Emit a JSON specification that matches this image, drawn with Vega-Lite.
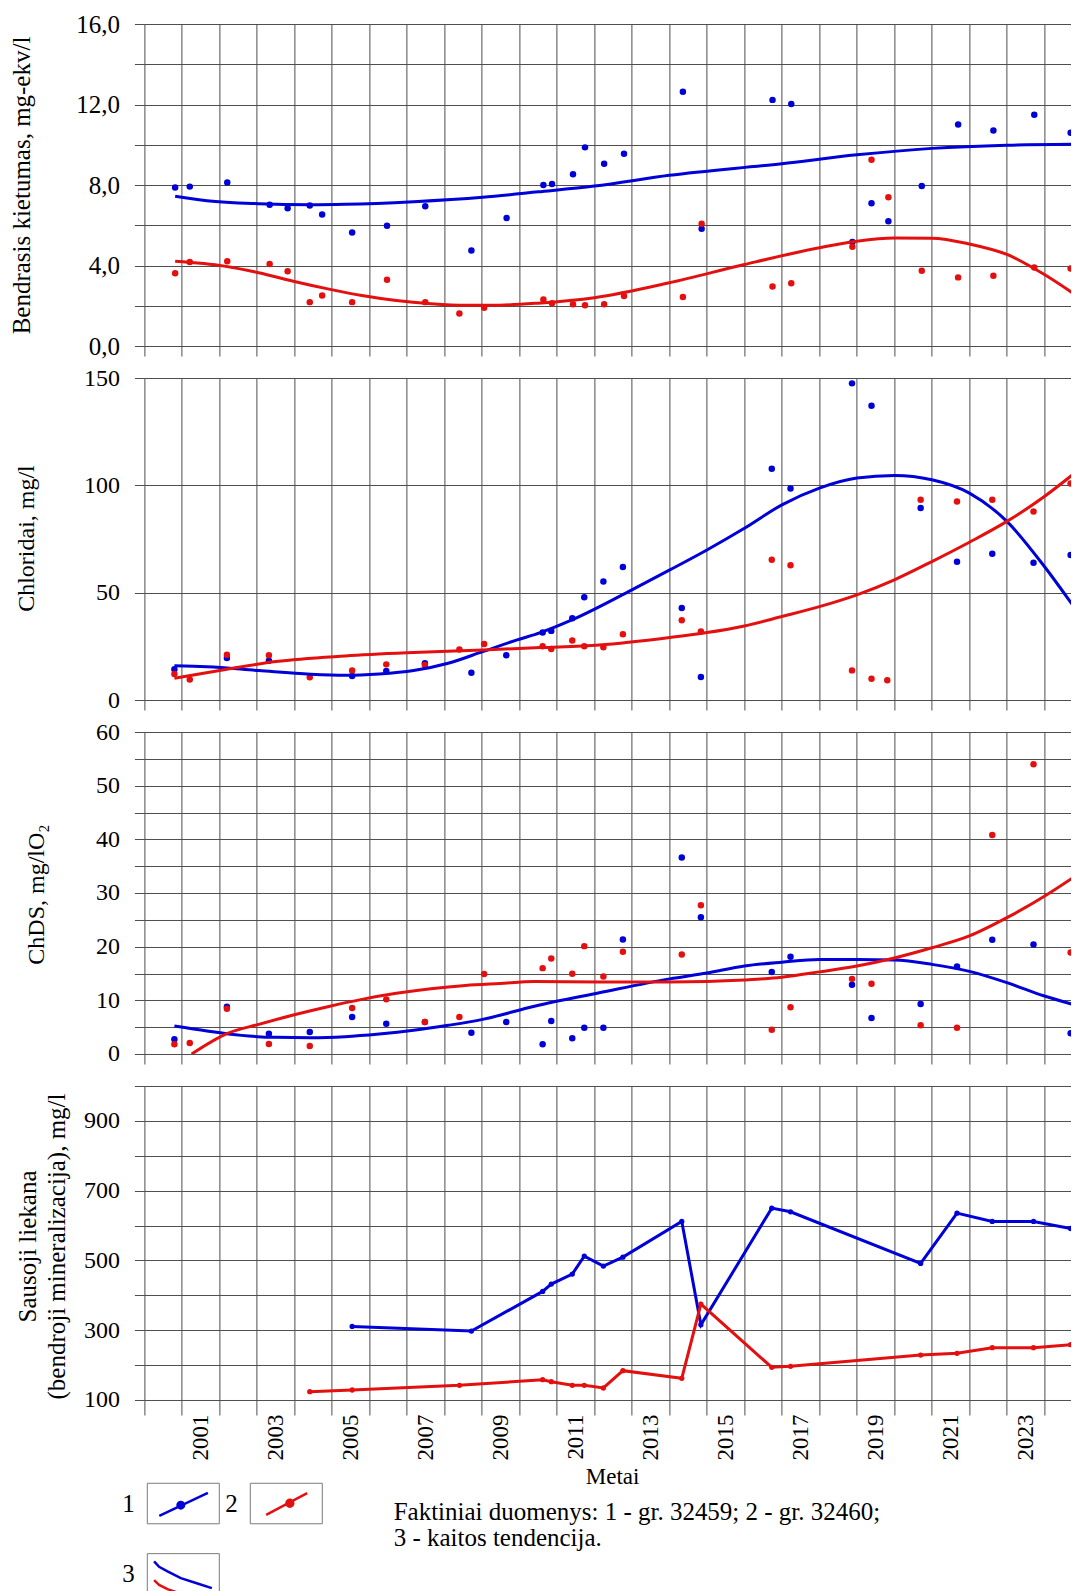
{
  "$schema": "https://vega.github.io/schema/vega-lite/v6.json",
  "padding": {"left": 9.4, "top": 12, "right": 0, "bottom": 0},
  "background": "white",
  "spacing": 32,
  "bounds": "flush",
  "resolve": {"scale": {"color": "independent", "shape": "independent"}},
  "config": {
    "view": {"stroke": null},
    "font": "Liberation Serif",
    "axis": {
      "labelFont": "Liberation Serif", "titleFont": "Liberation Serif",
      "labelColor": "#000", "titleColor": "#000", "titleFontWeight": "normal",
      "gridColor": "#4d4d4d", "gridWidth": 1, "gridOpacity": 1, "tickColor": "#4d4d4d", "tickWidth": 1,
      "domain": false, "labelOverlap": false, "labelFlush": false, "labelBound": false
    },
    "legend": {"labelFont": "Liberation Serif", "titleFont": "Liberation Serif", "padding": 0}
  },
  "datasets": {
    "hard": [
      {"year":2000.82,"value":7.88,"series":"1"},{"year":2001.21,"value":7.92,"series":"1"},{"year":2002.21,"value":8.12,"series":"1"},
      {"year":2003.34,"value":7.02,"series":"1"},{"year":2003.82,"value":6.84,"series":"1"},{"year":2004.41,"value":6.98,"series":"1"},
      {"year":2004.74,"value":6.53,"series":"1"},{"year":2005.54,"value":5.64,"series":"1"},{"year":2006.47,"value":5.97,"series":"1"},
      {"year":2007.49,"value":6.94,"series":"1"},{"year":2008.72,"value":4.74,"series":"1"},{"year":2009.66,"value":6.36,"series":"1"},
      {"year":2010.64,"value":8.0,"series":"1"},{"year":2010.87,"value":8.05,"series":"1"},{"year":2011.43,"value":8.53,"series":"1"},
      {"year":2011.75,"value":9.87,"series":"1"},{"year":2012.26,"value":9.06,"series":"1"},{"year":2012.79,"value":9.55,"series":"1"},
      {"year":2014.36,"value":12.63,"series":"1"},{"year":2014.86,"value":5.83,"series":"1"},{"year":2016.75,"value":12.23,"series":"1"},
      {"year":2017.25,"value":12.02,"series":"1"},{"year":2018.88,"value":5.17,"series":"1"},{"year":2019.39,"value":7.09,"series":"1"},
      {"year":2019.84,"value":6.2,"series":"1"},{"year":2020.73,"value":7.95,"series":"1"},{"year":2021.7,"value":11.01,"series":"1"},
      {"year":2022.64,"value":10.71,"series":"1"},{"year":2023.73,"value":11.49,"series":"1"},{"year":2024.7,"value":10.6,"series":"1"},
      {"year":2000.82,"value":3.62,"series":"2"},{"year":2001.21,"value":4.17,"series":"2"},{"year":2002.21,"value":4.21,"series":"2"},
      {"year":2003.34,"value":4.08,"series":"2"},{"year":2003.82,"value":3.72,"series":"2"},{"year":2004.41,"value":2.18,"series":"2"},
      {"year":2004.74,"value":2.51,"series":"2"},{"year":2005.54,"value":2.18,"series":"2"},{"year":2006.47,"value":3.29,"series":"2"},
      {"year":2007.49,"value":2.18,"series":"2"},{"year":2008.4,"value":1.62,"series":"2"},{"year":2009.06,"value":1.9,"series":"2"},
      {"year":2010.64,"value":2.31,"series":"2"},{"year":2010.87,"value":2.12,"series":"2"},{"year":2011.43,"value":2.07,"series":"2"},
      {"year":2011.75,"value":2.03,"series":"2"},{"year":2012.26,"value":2.07,"series":"2"},{"year":2012.79,"value":2.48,"series":"2"},
      {"year":2014.36,"value":2.43,"series":"2"},{"year":2014.86,"value":6.07,"series":"2"},{"year":2016.75,"value":2.96,"series":"2"},
      {"year":2017.25,"value":3.12,"series":"2"},{"year":2018.88,"value":4.93,"series":"2"},{"year":2019.39,"value":9.26,"series":"2"},
      {"year":2019.84,"value":7.39,"series":"2"},{"year":2020.73,"value":3.74,"series":"2"},{"year":2021.7,"value":3.41,"series":"2"},
      {"year":2022.64,"value":3.49,"series":"2"},{"year":2023.73,"value":3.9,"series":"2"},{"year":2024.7,"value":3.85,"series":"2"}
    ],
    "hardTrend": [
      {"year":2000.82,"value":7.44,"series":"1"},{"year":2001.67,"value":7.22,"series":"1"},{"year":2003.05,"value":7.07,"series":"1"},
      {"year":2004.43,"value":7.02,"series":"1"},{"year":2005.35,"value":7.04,"series":"1"},{"year":2007.18,"value":7.17,"series":"1"},
      {"year":2009.02,"value":7.39,"series":"1"},{"year":2010.5,"value":7.66,"series":"1"},{"year":2012.0,"value":7.95,"series":"1"},
      {"year":2014.0,"value":8.48,"series":"1"},{"year":2017.0,"value":9.06,"series":"1"},{"year":2019.0,"value":9.5,"series":"1"},
      {"year":2021.0,"value":9.82,"series":"1"},{"year":2023.0,"value":9.98,"series":"1"},{"year":2024.75,"value":10.03,"series":"1"},
      {"year":2000.82,"value":4.21,"series":"2"},{"year":2002.13,"value":3.97,"series":"2"},{"year":2003.05,"value":3.64,"series":"2"},
      {"year":2003.97,"value":3.22,"series":"2"},{"year":2004.89,"value":2.84,"series":"2"},{"year":2005.8,"value":2.51,"series":"2"},
      {"year":2006.72,"value":2.26,"series":"2"},{"year":2007.64,"value":2.1,"series":"2"},{"year":2008.56,"value":2.02,"series":"2"},
      {"year":2009.48,"value":2.03,"series":"2"},{"year":2010.5,"value":2.13,"series":"2"},{"year":2012.0,"value":2.4,"series":"2"},
      {"year":2014.0,"value":3.14,"series":"2"},{"year":2016.0,"value":4.05,"series":"2"},{"year":2018.0,"value":4.88,"series":"2"},
      {"year":2019.0,"value":5.21,"series":"2"},{"year":2020.0,"value":5.37,"series":"2"},{"year":2021.0,"value":5.36,"series":"2"},
      {"year":2022.0,"value":5.07,"series":"2"},{"year":2023.0,"value":4.55,"series":"2"},{"year":2024.0,"value":3.55,"series":"2"},
      {"year":2024.75,"value":2.64,"series":"2"}
    ],
    "cl": [
      {"year":2000.8,"value":14.3,"series":"1"},{"year":2002.2,"value":19.6,"series":"1"},{"year":2003.32,"value":18.3,"series":"1"},
      {"year":2005.54,"value":11.2,"series":"1"},{"year":2006.45,"value":13.5,"series":"1"},{"year":2007.48,"value":17.1,"series":"1"},
      {"year":2008.72,"value":12.7,"series":"1"},{"year":2009.65,"value":20.8,"series":"1"},{"year":2010.62,"value":31.4,"series":"1"},
      {"year":2010.85,"value":32.2,"series":"1"},{"year":2011.41,"value":38.1,"series":"1"},{"year":2011.73,"value":47.9,"series":"1"},
      {"year":2012.24,"value":55.2,"series":"1"},{"year":2012.76,"value":62.0,"series":"1"},{"year":2014.33,"value":42.9,"series":"1"},
      {"year":2014.84,"value":10.7,"series":"1"},{"year":2016.73,"value":107.7,"series":"1"},{"year":2017.23,"value":98.5,"series":"1"},
      {"year":2018.87,"value":147.5,"series":"1"},{"year":2019.39,"value":137.1,"series":"1"},{"year":2020.7,"value":89.4,"series":"1"},
      {"year":2021.67,"value":64.4,"series":"1"},{"year":2022.61,"value":68.1,"series":"1"},{"year":2023.71,"value":63.9,"series":"1"},
      {"year":2024.7,"value":67.6,"series":"1"},
      {"year":2000.8,"value":12.1,"series":"2"},{"year":2001.21,"value":9.6,"series":"2"},{"year":2002.2,"value":21.1,"series":"2"},
      {"year":2003.32,"value":20.8,"series":"2"},{"year":2004.41,"value":10.6,"series":"2"},{"year":2005.54,"value":13.7,"series":"2"},
      {"year":2006.45,"value":16.6,"series":"2"},{"year":2007.48,"value":16.3,"series":"2"},{"year":2008.4,"value":23.5,"series":"2"},
      {"year":2009.06,"value":26.1,"series":"2"},{"year":2010.62,"value":25.0,"series":"2"},{"year":2010.85,"value":23.8,"series":"2"},
      {"year":2011.41,"value":27.7,"series":"2"},{"year":2011.73,"value":25.0,"series":"2"},{"year":2012.24,"value":24.6,"series":"2"},
      {"year":2012.76,"value":30.6,"series":"2"},{"year":2014.33,"value":37.2,"series":"2"},{"year":2014.84,"value":31.9,"series":"2"},
      {"year":2016.73,"value":65.3,"series":"2"},{"year":2017.23,"value":62.8,"series":"2"},{"year":2018.87,"value":13.8,"series":"2"},
      {"year":2019.39,"value":9.9,"series":"2"},{"year":2019.81,"value":9.2,"series":"2"},{"year":2020.7,"value":93.3,"series":"2"},
      {"year":2021.67,"value":92.5,"series":"2"},{"year":2022.61,"value":93.3,"series":"2"},{"year":2023.71,"value":87.8,"series":"2"},
      {"year":2024.7,"value":100.9,"series":"2"}
    ],
    "clTrend": [
      {"year":2000.8,"value":15.9,"series":"1"},{"year":2001.67,"value":15.5,"series":"1"},{"year":2003.05,"value":13.7,"series":"1"},
      {"year":2004.43,"value":12.0,"series":"1"},{"year":2005.35,"value":11.5,"series":"1"},{"year":2006.26,"value":12.1,"series":"1"},
      {"year":2007.18,"value":13.7,"series":"1"},{"year":2008.1,"value":17.1,"series":"1"},{"year":2009.02,"value":22.5,"series":"1"},
      {"year":2009.94,"value":28.0,"series":"1"},{"year":2010.56,"value":31.4,"series":"1"},{"year":2011.4,"value":37.3,"series":"1"},
      {"year":2013.0,"value":51.3,"series":"1"},{"year":2014.01,"value":60.6,"series":"1"},{"year":2015.0,"value":69.9,"series":"1"},
      {"year":2016.0,"value":80.0,"series":"1"},{"year":2017.0,"value":90.9,"series":"1"},{"year":2018.0,"value":98.7,"series":"1"},
      {"year":2019.0,"value":103.4,"series":"1"},{"year":2020.0,"value":104.6,"series":"1"},{"year":2021.0,"value":102.6,"series":"1"},
      {"year":2022.0,"value":96.4,"series":"1"},{"year":2023.0,"value":83.2,"series":"1"},{"year":2024.0,"value":62.2,"series":"1"},
      {"year":2024.75,"value":44.3,"series":"1"},
      {"year":2000.8,"value":10.1,"series":"2"},{"year":2002.2,"value":14.3,"series":"2"},{"year":2003.51,"value":17.9,"series":"2"},
      {"year":2005.35,"value":20.5,"series":"2"},{"year":2007.18,"value":22.1,"series":"2"},{"year":2009.02,"value":23.3,"series":"2"},
      {"year":2010.56,"value":24.4,"series":"2"},{"year":2012.13,"value":25.6,"series":"2"},{"year":2014.01,"value":29.1,"series":"2"},
      {"year":2015.0,"value":31.4,"series":"2"},{"year":2016.0,"value":34.5,"series":"2"},{"year":2017.0,"value":38.9,"series":"2"},
      {"year":2018.0,"value":43.5,"series":"2"},{"year":2019.0,"value":49.0,"series":"2"},{"year":2020.0,"value":56.0,"series":"2"},
      {"year":2021.0,"value":64.5,"series":"2"},{"year":2022.0,"value":73.5,"series":"2"},{"year":2023.0,"value":83.2,"series":"2"},
      {"year":2024.0,"value":94.8,"series":"2"},{"year":2024.75,"value":104.9,"series":"2"}
    ],
    "chds": [
      {"year":2000.8,"value":2.73,"series":"1"},{"year":2002.2,"value":8.81,"series":"1"},{"year":2003.32,"value":3.79,"series":"1"},
      {"year":2004.41,"value":4.1,"series":"1"},{"year":2005.54,"value":6.89,"series":"1"},{"year":2006.45,"value":5.65,"series":"1"},
      {"year":2007.48,"value":5.96,"series":"1"},{"year":2008.72,"value":3.97,"series":"1"},{"year":2009.65,"value":5.96,"series":"1"},
      {"year":2010.62,"value":1.8,"series":"1"},{"year":2010.85,"value":6.14,"series":"1"},{"year":2011.41,"value":2.92,"series":"1"},
      {"year":2011.73,"value":4.9,"series":"1"},{"year":2012.24,"value":4.9,"series":"1"},{"year":2012.76,"value":21.34,"series":"1"},
      {"year":2014.33,"value":36.6,"series":"1"},{"year":2014.84,"value":25.5,"series":"1"},{"year":2016.73,"value":15.26,"series":"1"},
      {"year":2017.23,"value":18.1,"series":"1"},{"year":2018.87,"value":12.9,"series":"1"},{"year":2019.39,"value":6.7,"series":"1"},
      {"year":2020.7,"value":9.31,"series":"1"},{"year":2021.67,"value":16.3,"series":"1"},{"year":2022.61,"value":21.3,"series":"1"},
      {"year":2023.71,"value":20.4,"series":"1"},{"year":2024.7,"value":3.85,"series":"1"},
      {"year":2000.8,"value":1.8,"series":"2"},{"year":2001.21,"value":2.05,"series":"2"},{"year":2002.2,"value":8.44,"series":"2"},
      {"year":2003.32,"value":1.86,"series":"2"},{"year":2004.41,"value":1.49,"series":"2"},{"year":2005.54,"value":8.56,"series":"2"},
      {"year":2006.45,"value":10.18,"series":"2"},{"year":2007.48,"value":5.96,"series":"2"},{"year":2008.4,"value":6.89,"series":"2"},
      {"year":2009.06,"value":14.89,"series":"2"},{"year":2010.62,"value":16.0,"series":"2"},{"year":2010.85,"value":17.8,"series":"2"},
      {"year":2011.41,"value":14.95,"series":"2"},{"year":2011.73,"value":20.1,"series":"2"},{"year":2012.24,"value":14.46,"series":"2"},
      {"year":2012.76,"value":19.05,"series":"2"},{"year":2014.33,"value":18.55,"series":"2"},{"year":2014.84,"value":27.7,"series":"2"},
      {"year":2016.73,"value":4.53,"series":"2"},{"year":2017.23,"value":8.69,"series":"2"},{"year":2018.87,"value":14.0,"series":"2"},
      {"year":2019.39,"value":13.1,"series":"2"},{"year":2020.7,"value":5.34,"series":"2"},{"year":2021.67,"value":4.9,"series":"2"},
      {"year":2022.61,"value":40.8,"series":"2"},{"year":2023.71,"value":54.0,"series":"2"},{"year":2024.7,"value":18.9,"series":"2"}
    ],
    "chdsTrend": [
      {"year":2000.8,"value":5.21,"series":"1"},{"year":2001.67,"value":4.28,"series":"1"},{"year":2002.59,"value":3.47,"series":"1"},
      {"year":2003.51,"value":3.1,"series":"1"},{"year":2004.43,"value":3.04,"series":"1"},{"year":2005.35,"value":3.23,"series":"1"},
      {"year":2006.26,"value":3.72,"series":"1"},{"year":2007.18,"value":4.41,"series":"1"},{"year":2008.1,"value":5.34,"series":"1"},
      {"year":2009.02,"value":6.45,"series":"1"},{"year":2010.4,"value":8.9,"series":"1"},{"year":2012.13,"value":11.4,"series":"1"},
      {"year":2014.01,"value":14.0,"series":"1"},{"year":2015.0,"value":15.1,"series":"1"},{"year":2016.0,"value":16.4,"series":"1"},
      {"year":2017.0,"value":17.1,"series":"1"},{"year":2018.0,"value":17.6,"series":"1"},{"year":2019.0,"value":17.6,"series":"1"},
      {"year":2020.0,"value":17.5,"series":"1"},{"year":2021.0,"value":16.7,"series":"1"},{"year":2022.0,"value":15.4,"series":"1"},
      {"year":2023.0,"value":13.3,"series":"1"},{"year":2024.0,"value":10.8,"series":"1"},{"year":2024.75,"value":9.25,"series":"1"},
      {"year":2001.26,"value":0.0,"series":"2"},{"year":2002.2,"value":3.8,"series":"2"},{"year":2003.05,"value":5.52,"series":"2"},
      {"year":2003.97,"value":7.26,"series":"2"},{"year":2004.89,"value":8.81,"series":"2"},{"year":2005.8,"value":10.18,"series":"2"},
      {"year":2006.72,"value":11.3,"series":"2"},{"year":2007.64,"value":12.16,"series":"2"},{"year":2008.56,"value":12.78,"series":"2"},
      {"year":2009.48,"value":13.15,"series":"2"},{"year":2010.4,"value":13.5,"series":"2"},{"year":2012.13,"value":13.4,"series":"2"},
      {"year":2014.0,"value":13.4,"series":"2"},{"year":2016.0,"value":13.8,"series":"2"},{"year":2017.0,"value":14.3,"series":"2"},
      {"year":2018.0,"value":15.3,"series":"2"},{"year":2019.0,"value":16.4,"series":"2"},{"year":2020.0,"value":17.9,"series":"2"},
      {"year":2021.0,"value":19.8,"series":"2"},{"year":2022.0,"value":22.0,"series":"2"},{"year":2023.0,"value":25.4,"series":"2"},
      {"year":2024.0,"value":29.4,"series":"2"},{"year":2024.75,"value":32.8,"series":"2"}
    ],
    "dry": [
      {"year":2005.54,"value":311.0,"series":"1"},{"year":2008.72,"value":297.6,"series":"1"},{"year":2010.62,"value":411.2,"series":"1"},
      {"year":2010.85,"value":432.2,"series":"1"},{"year":2011.41,"value":460.9,"series":"1"},{"year":2011.73,"value":512.4,"series":"1"},
      {"year":2012.24,"value":483.8,"series":"1"},{"year":2012.76,"value":509.5,"series":"1"},{"year":2014.33,"value":611.7,"series":"1"},
      {"year":2014.84,"value":315.7,"series":"1"},{"year":2016.73,"value":649.9,"series":"1"},{"year":2017.23,"value":639.4,"series":"1"},
      {"year":2020.7,"value":491.4,"series":"1"},{"year":2021.67,"value":635.6,"series":"1"},{"year":2022.61,"value":611.7,"series":"1"},
      {"year":2023.71,"value":611.7,"series":"1"},{"year":2024.7,"value":591.6,"series":"1"},
      {"year":2004.41,"value":123.9,"series":"2"},{"year":2005.54,"value":128.6,"series":"2"},{"year":2008.4,"value":142.0,"series":"2"},
      {"year":2010.62,"value":158.2,"series":"2"},{"year":2010.85,"value":152.5,"series":"2"},{"year":2011.41,"value":142.0,"series":"2"},
      {"year":2011.73,"value":142.0,"series":"2"},{"year":2012.24,"value":134.4,"series":"2"},{"year":2012.76,"value":184.0,"series":"2"},
      {"year":2014.33,"value":162.1,"series":"2"},{"year":2014.84,"value":374.9,"series":"2"},{"year":2016.73,"value":193.6,"series":"2"},
      {"year":2017.23,"value":196.4,"series":"2"},{"year":2020.7,"value":228.9,"series":"2"},{"year":2021.67,"value":233.7,"series":"2"},
      {"year":2022.61,"value":249.9,"series":"2"},{"year":2023.71,"value":249.9,"series":"2"},{"year":2024.7,"value":258.5,"series":"2"}
    ]
  },
  "vconcat": [
    {
      "width": 927, "height": 322,
      "encoding": {
        "x": {"field": "year", "type": "quantitative", "scale": {"domain": [2000, 2024.72], "nice": false, "zero": false},
          "axis": {"values": [2000,2001,2002,2003,2004,2005,2006,2007,2008,2009,2010,2011,2012,2013,2014,2015,2016,2017,2018,2019,2020,2021,2022,2023,2024], "labels": false, "tickSize": 10, "grid": true, "title": null}},
        "y": {"field": "value", "type": "quantitative", "scale": {"domain": [0, 16], "nice": false, "zero": false},
          "axis": {"values": [0,2,4,6,8,10,12,14,16], "labelExpr": "datum.value % 4 === 0 ? replace(format(datum.value, '.1f'), '.', ',') : ''",
            "labelFontSize": 25, "labelPadding": 15, "tickSize": 10, "grid": true,
            "title": "Bendrasis kietumas, mg-ekv/l", "titleFontSize": 25, "titleX": -109.6, "titleY": 161, "titleAngle": -90, "titleAlign": "center", "titleBaseline": "bottom"}},
        "color": {"field": "series", "type": "nominal", "scale": {"domain": ["1","2","3"], "range": ["#0000d8", "#e41010", "#0000d8"]},
          "legend": {"orient": "none", "legendX": 249.3, "legendY": 1476,
            "title": ["Faktiniai duomenys: 1 - gr. 32459; 2 - gr. 32460;", "3 - kaitos tendencija."],
            "titleFontSize": 25, "titleFontWeight": "normal", "titleColor": "#000", "titleLimit": 2000, "titleLineHeight": 26,
            "titleBaseline": "top", "titleAlign": "left", "titleAnchor": "start", "titlePadding": 0,
            "direction": "horizontal", "symbolSize": 1, "labelFontSize": 2, "labelExpr": "''", "labelOpacity": 0, "symbolOpacity": 0,
            "encoding": {"symbols": {"opacity": {"value": 0}}}}}
      },
      "layer": [
        {"data": {"name": "hard"}, "mark": {"type": "point", "filled": true, "size": 42, "opacity": 1, "strokeWidth": 0, "clip": true}},
        {"data": {"name": "hardTrend"}, "mark": {"type": "line", "strokeWidth": 3, "interpolate": "monotone", "clip": true}}
      ]
    },
    {
      "width": 927, "height": 322,
      "encoding": {
        "x": {"field": "year", "type": "quantitative", "scale": {"domain": [2000, 2024.72], "nice": false, "zero": false},
          "axis": {"values": [2000,2001,2002,2003,2004,2005,2006,2007,2008,2009,2010,2011,2012,2013,2014,2015,2016,2017,2018,2019,2020,2021,2022,2023,2024], "labels": false, "tickSize": 10, "grid": true, "title": null}},
        "y": {"field": "value", "type": "quantitative", "scale": {"domain": [0, 150], "nice": false, "zero": false},
          "axis": {"values": [0,50,100,150], "labelExpr": "'' + datum.value",
            "labelFontSize": 24, "labelPadding": 15, "tickSize": 10, "grid": true,
            "title": "Chloridai, mg/l", "titleFontSize": 24, "titleX": -105.5, "titleY": 160, "titleAngle": -90, "titleAlign": "center", "titleBaseline": "bottom"}},
        "color": {"field": "series", "type": "nominal", "scale": {"domain": ["1","2"], "range": ["#0000d8", "#e41010"]}, "legend": null}
      },
      "layer": [
        {"data": {"name": "cl"}, "mark": {"type": "point", "filled": true, "size": 42, "opacity": 1, "strokeWidth": 0, "clip": true}},
        {"data": {"name": "clTrend"}, "mark": {"type": "line", "strokeWidth": 3, "interpolate": "monotone", "clip": true}},
        {"data": {"values": []}, "mark": {"type": "point"},
          "encoding": {"shape": {"field": "series", "type": "nominal",
            "scale": {"domain": ["1","2","3"], "range": [
              "M-1,-0.5625M1,0.5625",
              "M-1,-0.5625M1,0.5625M-0.608,0.314L0.531,-0.286M0.145,-0.008A0.095,0.095,0,1,1,-0.045,-0.008A0.095,0.095,0,1,1,0.145,-0.008Z",
              "M-1,-0.5625M1,0.5625M-0.811,0.111L-0.672,0.242L-0.439,0.361L-0.022,0.5L0.3,0.56L-0.022,0.5L-0.439,0.361L-0.672,0.242Z"]},
            "legend": {"orient": "none", "legendX": 1.4, "legendY": 1087.9, "title": null, "direction": "horizontal", "columns": 2,
              "columnPadding": 14.75, "rowPadding": 9.75, "symbolSize": 5184, "symbolStrokeWidth": 2.5,
              "labelFontSize": 25, "labelAlign": "right", "labelOffset": -86, "labelExpr": "''",
              "encoding": {"symbols": {"stroke": {"value": "#e41010"}, "fill": {"value": "#e41010"}, "strokeWidth": {"value": 2.5}, "opacity": {"value": 1}}}}}}}
      ]
    },
    {
      "width": 927, "height": 322,
      "encoding": {
        "x": {"field": "year", "type": "quantitative", "scale": {"domain": [2000, 2024.72], "nice": false, "zero": false},
          "axis": {"values": [2000,2001,2002,2003,2004,2005,2006,2007,2008,2009,2010,2011,2012,2013,2014,2015,2016,2017,2018,2019,2020,2021,2022,2023,2024], "labels": false, "tickSize": 10, "grid": true, "title": null}},
        "y": {"field": "value", "type": "quantitative", "scale": {"domain": [0, 60], "nice": false, "zero": false},
          "axis": {"values": [0,5,10,15,20,25,30,35,40,45,50,55,60], "labelExpr": "datum.value % 10 === 0 ? '' + datum.value : ''",
            "labelFontSize": 24, "labelPadding": 15, "tickSize": 10, "grid": true,
            "title": "ChDS, mg/lO₂", "titleFontSize": 24, "titleX": -95.8, "titleY": 162, "titleAngle": -90, "titleAlign": "center", "titleBaseline": "bottom"}},
        "color": {"field": "series", "type": "nominal", "scale": {"domain": ["1","2"], "range": ["#0000d8", "#e41010"]}, "legend": null}
      },
      "layer": [
        {"data": {"name": "chds"}, "mark": {"type": "point", "filled": true, "size": 42, "opacity": 1, "strokeWidth": 0, "clip": true}},
        {"data": {"name": "chdsTrend"}, "mark": {"type": "line", "strokeWidth": 3, "interpolate": "monotone", "clip": true}},
        {"data": {"values": []}, "mark": {"type": "point"},
          "encoding": {"shape": {"field": "series", "type": "nominal",
            "scale": {"domain": ["1","2","3"], "range": [
              "M-1,-0.5625L1,-0.5625L1,0.5625L-1,0.5625Z",
              "M-1,-0.5625L1,-0.5625L1,0.5625L-1,0.5625Z",
              "M-1,-0.5625L1,-0.5625L1,0.5625L-1,0.5625Z"]},
            "legend": {"orient": "none", "legendX": 2.4, "legendY": 734.9, "title": null, "direction": "horizontal", "columns": 2,
              "columnPadding": 3, "rowPadding": 11.5, "symbolSize": 5184, "symbolStrokeWidth": 1,
              "labelFontSize": 25, "labelColor": "#000", "labelAlign": "right", "labelOffset": -85,
              "encoding": {"symbols": {"stroke": {"value": "#7a7a7a"}, "fill": {"value": "transparent"}, "strokeWidth": {"value": 1}, "opacity": {"value": 1}}}}}}}
      ]
    },
    {
      "width": 927, "height": 314,
      "encoding": {
        "x": {"field": "year", "type": "quantitative", "scale": {"domain": [2000, 2024.72], "nice": false, "zero": false},
          "axis": {"values": [2000,2001,2001.5,2002,2003,2003.5,2004,2005,2005.5,2006,2007,2007.5,2008,2009,2009.5,2010,2011,2011.5,2012,2013,2013.5,2014,2015,2015.5,2016,2017,2017.5,2018,2019,2019.5,2020,2021,2021.5,2022,2023,2023.5,2024],
            "labelExpr": "datum.value % 1 !== 0 ? '' + floor(datum.value) : ''",
            "labelAngle": -90, "labelAlign": "right", "labelBaseline": "middle", "labelFontSize": 23, "labelPadding": -1,
            "tickSize": 15, "grid": true,
            "tickOpacity": {"condition": {"test": "datum.value % 1 !== 0", "value": 0}, "value": 1},
            "gridOpacity": {"condition": {"test": "datum.value % 1 !== 0", "value": 0}, "value": 1},
            "title": "Metai", "titleFontSize": 23, "titleX": 467.7, "titleY": 77, "titleAlign": "center", "titleBaseline": "middle", "titleAngle": 0}},
        "y": {"field": "value", "type": "quantitative", "scale": {"domain": [100, 1000], "nice": false, "zero": false},
          "axis": {"values": [100,200,300,400,500,600,700,800,900,1000], "labelExpr": "datum.value % 200 === 100 ? '' + datum.value : ''",
            "labelFontSize": 24, "labelPadding": 15, "tickSize": 10, "grid": true,
            "title": ["Sausoji liekana", "(bendroji mineralizacija), mg/l"], "titleFontSize": 25, "titleLineHeight": 29,
            "titleX": -104.1, "titleY": 160, "titleAngle": -90, "titleAlign": "center", "titleBaseline": "bottom"}},
        "color": {"field": "series", "type": "nominal", "scale": {"domain": ["1","2"], "range": ["#0000d8", "#e41010"]}, "legend": null}
      },
      "layer": [
        {"data": {"name": "dry"}, "mark": {"type": "line", "strokeWidth": 3, "clip": true}},
        {"data": {"name": "dry"}, "mark": {"type": "point", "filled": true, "size": 28, "opacity": 1, "strokeWidth": 0, "clip": true}},
        {"data": {"values": []}, "mark": {"type": "point"},
          "encoding": {"shape": {"field": "series", "type": "nominal",
            "scale": {"domain": ["1","2","3"], "range": [
              "M-1,-0.5625M1,0.5625M-0.667,0.342L0.683,-0.297M0.02,0.045A0.09,0.09,0,1,1,-0.16,0.045A0.09,0.09,0,1,1,0.02,0.045Z",
              "M-1,-0.5625M1,0.5625",
              "M-1,-0.5625M1,0.5625M-0.811,-0.408L-0.672,-0.258L-0.439,-0.131L-0.069,0.056L0.394,0.203L0.792,0.333L0.394,0.203L-0.069,0.056L-0.439,-0.131L-0.672,-0.258Z"]},
            "legend": {"orient": "none", "legendX": 1.4, "legendY": 379.9, "title": null, "direction": "horizontal", "columns": 2,
              "columnPadding": 14.75, "rowPadding": 9.75, "symbolSize": 5184, "symbolStrokeWidth": 2.5,
              "labelFontSize": 25, "labelAlign": "right", "labelOffset": -86, "labelExpr": "''",
              "encoding": {"symbols": {"stroke": {"value": "#0000d8"}, "fill": {"value": "#0000d8"}, "strokeWidth": {"value": 2.5}, "opacity": {"value": 1}}}}}}}
      ]
    }
  ]
}
